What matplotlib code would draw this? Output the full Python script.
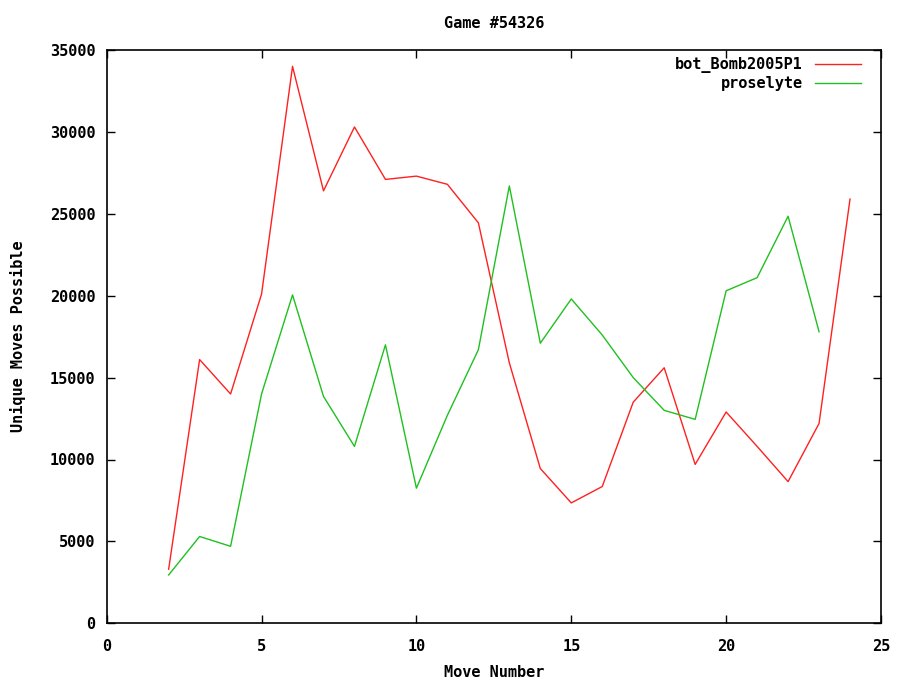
import matplotlib
matplotlib.use("Agg")
import matplotlib.pyplot as plt

title = "Game #54326"
xlabel = "Move Number"
ylabel = "Unique Moves Possible"

bot_moves = list(range(2, 25))
bot_values = [3300, 16100, 14000, 20100, 34000, 26400, 30300, 27100, 27300, 26800,
              24450, 15900, 9450, 7350, 8350, 13500, 15600, 9700, 12900, 10800,
              8650, 12200, 25900]

pro_moves = list(range(2, 24))
pro_values = [2950, 5300, 4700, 14000, 20050, 13850, 10800, 17000, 8250, 12700,
              16700, 26700, 17100, 19800, 17600, 15000, 13000, 12450, 20300, 21100,
              24850, 17800]

xticks = [0, 5, 10, 15, 20, 25]
yticks = [0, 5000, 10000, 15000, 20000, 25000, 30000, 35000]

plt.rcParams['font.family'] = ['DejaVu Sans Mono']
plt.rcParams['font.weight'] = 'bold'
FS = 11

fig = plt.figure(figsize=(8.97, 6.8), dpi=100)
ax = fig.add_axes([106.7/897, 1-623.3/680, (881-106.7)/897, (623.3-50)/680])

ax.plot(bot_moves, bot_values, color='#ff2020', lw=1.0, label='bot_Bomb2005P1')
ax.plot(pro_moves, pro_values, color='#20c020', lw=1.0, label='proselyte')

ax.set_xlim(0, 25)
ax.set_ylim(0, 35000)
ax.set_xticks(xticks)
ax.set_yticks(yticks)
ax.set_xticklabels([str(v) for v in xticks])
ax.set_yticklabels([str(v) for v in yticks])
ax.tick_params(direction='in', top=True, right=True, length=6, width=1,
               labelsize=FS)
ax.tick_params(axis='x', pad=11)
ax.tick_params(axis='y', pad=8)
for s in ax.spines.values():
    s.set_linewidth(1.2)

ax.set_title(title, fontsize=FS, fontweight='bold', pad=16)
ax.set_xlabel(xlabel, fontsize=FS, fontweight='bold', labelpad=8)
ax.set_ylabel(ylabel, fontsize=FS, fontweight='bold', labelpad=17)

leg = ax.legend(loc='upper right', bbox_to_anchor=(0.974, 0.988),
                frameon=False, markerfirst=False,
                handlelength=3.0, handletextpad=0.8,
                labelspacing=0.2, borderaxespad=0.0, borderpad=0.0,
                prop={'weight': 'bold', 'size': FS})
for t in leg.get_texts():
    t.set_ha('right')
leg._legend_box.align = "right"

fig.savefig("out.png", dpi=100)
